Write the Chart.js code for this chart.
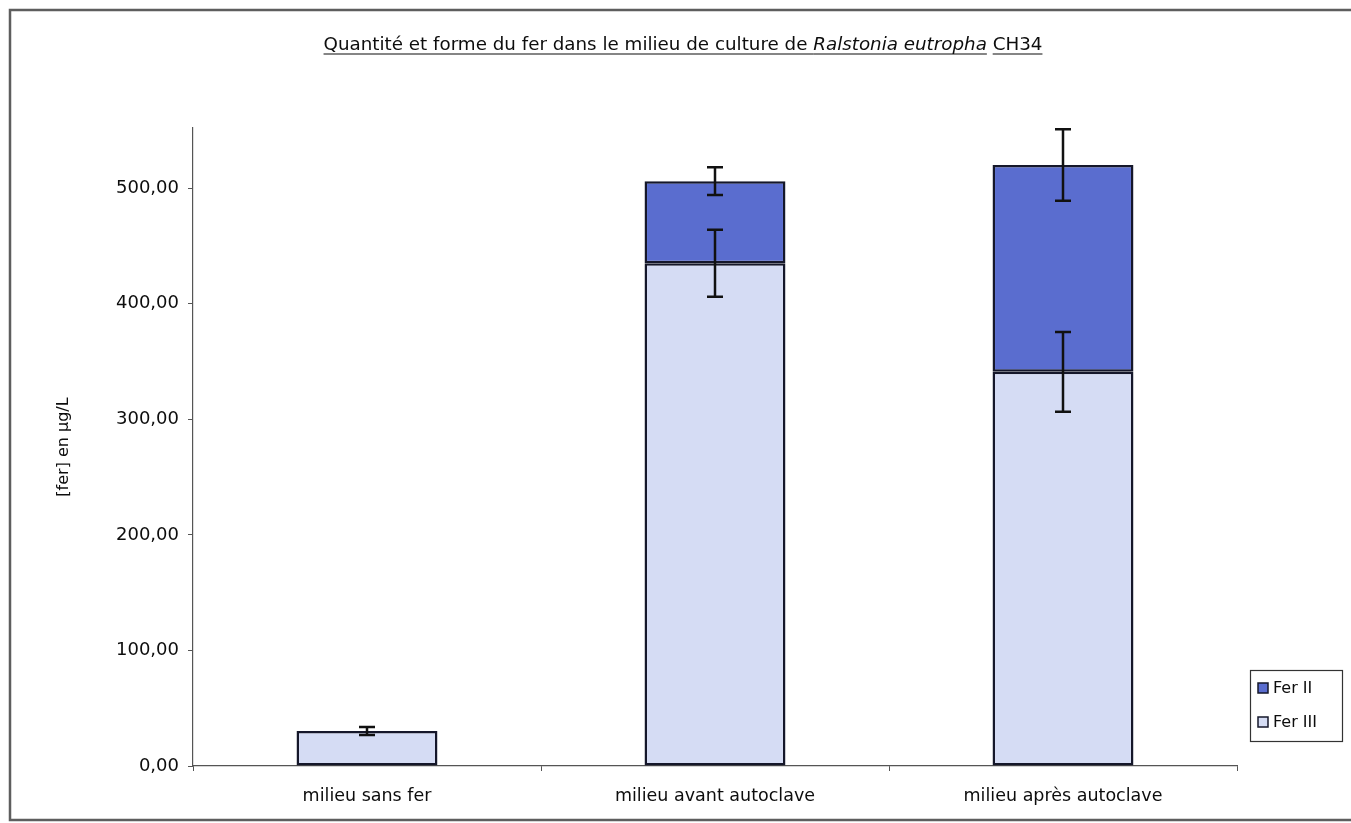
<!DOCTYPE html>
<html>
<head>
<meta charset="utf-8">
<script src="https://cdn.jsdelivr.net/npm/chart.js@4/dist/chart.umd.min.js"></script>
<style>
  html, body { margin: 0; padding: 0; background: #ffffff; }
  #wrap { width: 1351px; height: 823px; position: relative; }
</style>
</head>
<body>
<div id="wrap"><canvas id="c" width="1351" height="823"></canvas></div>
<script>
// ---- data ----
const categories = ['milieu sans fer', 'milieu avant autoclave', 'milieu après autoclave'];
const ferIII = [30.3, 435, 341];
const ferII = [0, 71, 179];
const ferIIIErr = [3.5, 29, 34.5];
const ferIIErr = [0, 12, 31];
const yTicks = [0, 100, 200, 300, 400, 500];
const yMax = 552;
const titleParts = [
  { text: 'Quantité et forme du fer dans le milieu de culture de ', italic: false },
  { text: 'Ralstonia eutropha', italic: true },
  { text: ' ', italic: false, noUnderline: true },
  { text: 'CH34', italic: false }
];
const yTitle = '[fer] en µg/L';

const FONT = '"DejaVu Sans", "Liberation Sans", Arial, sans-serif';
const colFerII = '#5a6dcf';
const colFerIII = '#d5dcf4';
const edge = '#15172a';
const txt = '#0d0d0d';

const framePlugin = {
  id: 'frame',
  beforeDraw(chart) {
    const ctx = chart.ctx;
    ctx.save();
    ctx.fillStyle = '#ffffff';
    ctx.fillRect(0, 0, chart.width, chart.height);
    ctx.strokeStyle = '#5e5e5e';
    ctx.lineWidth = 2.5;
    ctx.beginPath();
    ctx.moveTo(chart.width + 5, 10);
    ctx.lineTo(10, 10);
    ctx.lineTo(10, 820);
    ctx.lineTo(chart.width + 5, 820);
    ctx.stroke();
    ctx.restore();
  },
  afterDraw(chart) {
    const ctx = chart.ctx;
    ctx.save();
    // title
    const size = 18.3;
    const widths = titleParts.map(p => {
      ctx.font = (p.italic ? 'italic ' : '') + size + 'px ' + FONT;
      return ctx.measureText(p.text).width;
    });
    const total = widths.reduce((a, b) => a + b, 0);
    let x = 683 - total / 2;
    const baseY = 50;
    ctx.fillStyle = txt;
    ctx.strokeStyle = txt;
    ctx.lineWidth = 1.2;
    ctx.textBaseline = 'alphabetic';
    ctx.textAlign = 'left';
    titleParts.forEach((p, i) => {
      ctx.font = (p.italic ? 'italic ' : '') + size + 'px ' + FONT;
      ctx.fillText(p.text, x, baseY);
      if (!p.noUnderline) {
        ctx.beginPath();
        ctx.moveTo(x, baseY + 4);
        ctx.lineTo(x + widths[i], baseY + 4);
        ctx.stroke();
      }
      x += widths[i];
    });

    // legend
    const lx = 1250, ly = 670, lw = 92, lh = 71;
    ctx.strokeStyle = '#333333';
    ctx.lineWidth = 1.2;
    ctx.strokeRect(lx + 0.5, ly + 0.5, lw, lh);
    const items = [chart.data.datasets[1], chart.data.datasets[0]];
    ctx.font = '16px ' + FONT;
    ctx.textBaseline = 'middle';
    items.forEach((ds, i) => {
      const cy = ly + 18 + i * 34;
      ctx.fillStyle = ds.backgroundColor;
      ctx.fillRect(lx + 8, cy - 5, 10, 10);
      ctx.strokeStyle = edge;
      ctx.lineWidth = 1.5;
      ctx.strokeRect(lx + 8, cy - 5, 10, 10);
      ctx.fillStyle = txt;
      ctx.fillText(ds.label, lx + 23, cy + 1);
    });
    ctx.restore();
  }
};

const errorBarPlugin = {
  id: 'errbars',
  afterDatasetsDraw(chart) {
    const ctx = chart.ctx;
    const xs = chart.scales.x, ys = chart.scales.y;
    ctx.save();
    ctx.strokeStyle = '#111111';
    ctx.lineWidth = 2.5;
    const draw = (cx, v, e) => {
      if (!e) return;
      const yTop = ys.getPixelForValue(v + e);
      const yBot = ys.getPixelForValue(v - e);
      const hw = 8;
      ctx.beginPath();
      ctx.moveTo(cx, yTop); ctx.lineTo(cx, yBot);
      ctx.moveTo(cx - hw, yTop); ctx.lineTo(cx + hw, yTop);
      ctx.moveTo(cx - hw, yBot); ctx.lineTo(cx + hw, yBot);
      ctx.stroke();
    };
    categories.forEach((c, i) => {
      const cx = xs.getPixelForValue(i);
      draw(cx, ferIII[i], ferIIIErr[i]);
      draw(cx, ferIII[i] + ferII[i], ferIIErr[i]);
    });
    ctx.restore();
  }
};

new Chart(document.getElementById('c'), {
  type: 'bar',
  data: {
    labels: categories,
    datasets: [
      { label: 'Fer III', data: ferIII, backgroundColor: colFerIII, borderColor: edge, borderWidth: 2.5, borderSkipped: false },
      { label: 'Fer II', data: ferII, backgroundColor: colFerII, borderColor: edge, borderWidth: 2.5, borderSkipped: false }
    ]
  },
  options: {
    responsive: false,
    animation: false,
    devicePixelRatio: 1,
    layout: { padding: { left: 50, top: 128, right: 114, bottom: 0 } },
    datasets: { bar: { categoryPercentage: 1, barPercentage: 0.405 } },
    plugins: { legend: { display: false }, title: { display: false }, tooltip: { enabled: false } },
    scales: {
      x: {
        stacked: true,
        offset: true,
        grid: { offset: true, drawOnChartArea: false, drawTicks: true, tickLength: 5, color: '#555555' },
        border: { display: true, color: '#555555', width: 1.2 },
        ticks: { color: txt, font: { family: FONT, size: 17.5 }, padding: 15 },
        afterFit(scale) { scale.height = 57; }
      },
      y: {
        stacked: true,
        min: 0,
        max: yMax,
        afterBuildTicks(scale) { scale.ticks = yTicks.map(v => ({ value: v })); },
        grid: { drawOnChartArea: false, drawTicks: true, tickLength: 5, color: '#555555' },
        border: { display: true, color: '#555555', width: 1.2 },
        ticks: {
          color: txt,
          font: { family: FONT, size: 18 },
          padding: 9,
          callback: v => v.toFixed(2).replace('.', ',')
        },
        title: { display: true, text: yTitle, color: txt, font: { family: FONT, size: 16 }, padding: 4 },
        afterFit(scale) { scale.width = 143; }
      }
    }
  },
  plugins: [framePlugin, errorBarPlugin]
});
</script>
</body>
</html>
